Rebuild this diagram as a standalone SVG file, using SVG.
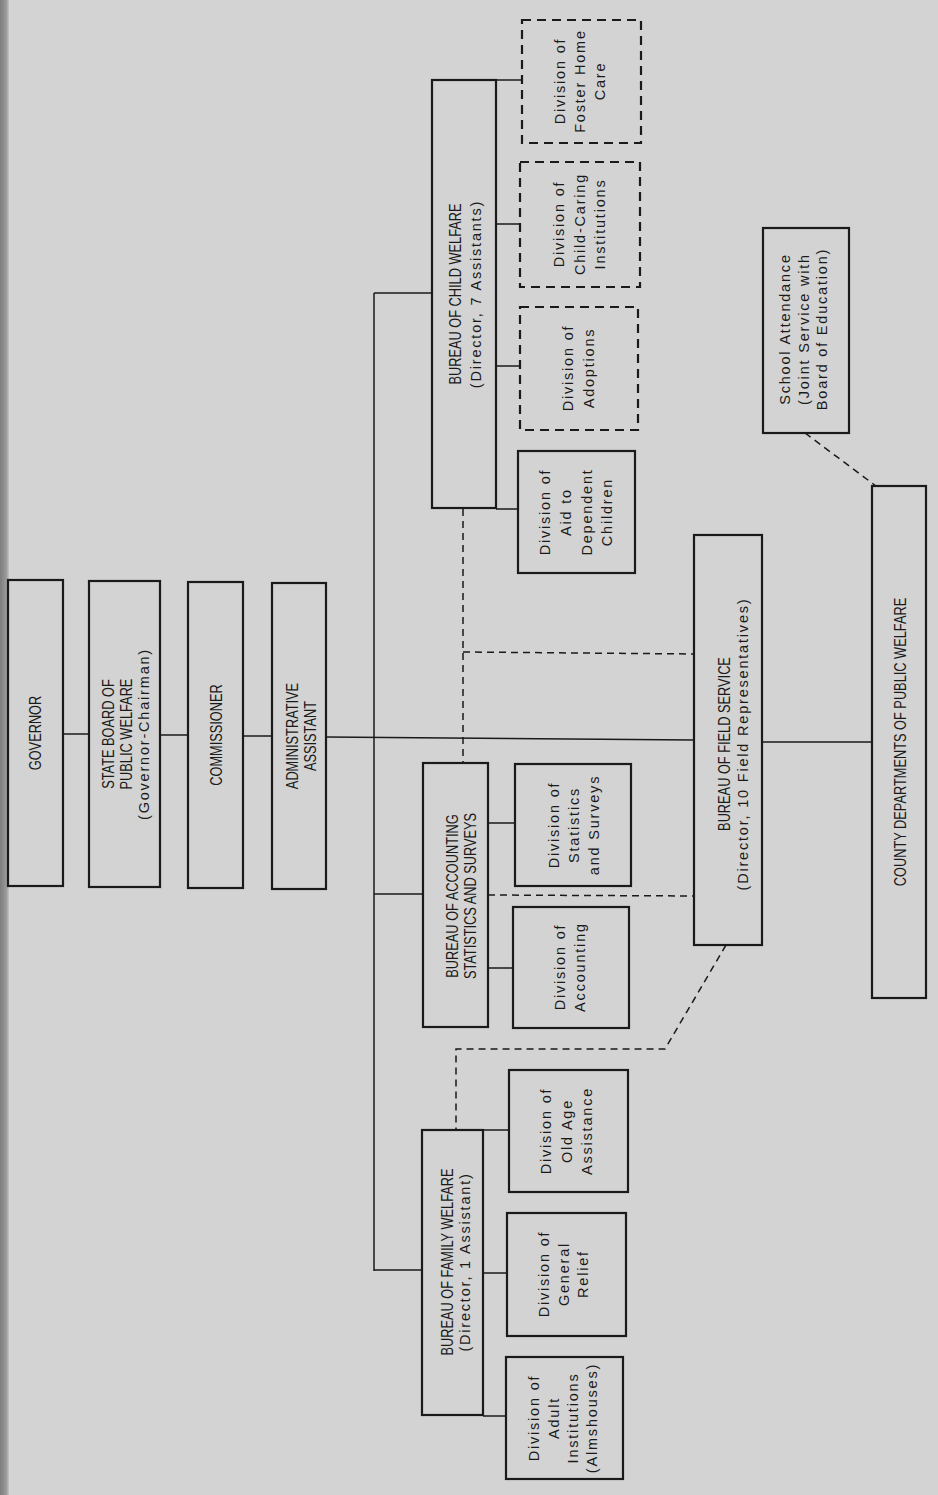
<svg xmlns="http://www.w3.org/2000/svg" width="938" height="1495" viewBox="0 0 938 1495">
<defs>
<linearGradient id="edge" x1="0" y1="0" x2="1" y2="0">
<stop offset="0" stop-color="#7d7d7d"/>
<stop offset="0.7" stop-color="#9a9a9a"/>
<stop offset="1" stop-color="#c4c4c4"/>
</linearGradient>
</defs>
<style>
.box{fill:none;stroke:#1a1a1a;stroke-width:2.2}
.dbox{fill:none;stroke:#1a1a1a;stroke-width:2.2;stroke-dasharray:9 6}
.ln{fill:none;stroke:#1a1a1a;stroke-width:1.5}
.dl{fill:none;stroke:#1a1a1a;stroke-width:1.5;stroke-dasharray:7 5}
.u{font-family:"Liberation Sans",Arial,sans-serif;font-size:16px;fill:#1a1a1a;text-anchor:middle;dominant-baseline:central}
.m{font-family:"Liberation Sans",Arial,sans-serif;font-size:14.5px;letter-spacing:1.8px;fill:#1a1a1a;text-anchor:middle;dominant-baseline:central}
</style>
<rect x="0" y="0" width="938" height="1495" fill="#d3d3d3"/>
<rect x="0" y="0" width="9" height="1495" fill="url(#edge)"/>

<g id="connectors">
<line class="ln" x1="63" y1="734" x2="89" y2="734"/>
<line class="ln" x1="160" y1="735" x2="188" y2="735"/>
<line class="ln" x1="243" y1="736" x2="272" y2="736"/>
<line class="ln" x1="326" y1="737" x2="694" y2="740"/>
<line class="ln" x1="374" y1="293" x2="374" y2="1271"/>
<line class="ln" x1="374" y1="293" x2="432" y2="293"/>
<line class="ln" x1="374" y1="894" x2="423" y2="894"/>
<line class="ln" x1="374" y1="1270" x2="422" y2="1270"/>
<line class="ln" x1="496" y1="80" x2="522" y2="80"/>
<line class="ln" x1="496" y1="224" x2="520" y2="224"/>
<line class="ln" x1="496" y1="366" x2="520" y2="366"/>
<line class="ln" x1="496" y1="509" x2="518" y2="509"/>
<line class="ln" x1="488" y1="823" x2="515" y2="823"/>
<line class="ln" x1="488" y1="968" x2="513" y2="968"/>
<line class="ln" x1="762" y1="742" x2="872" y2="742"/>
<line class="ln" x1="483" y1="1130" x2="509" y2="1130"/>
<line class="ln" x1="483" y1="1273" x2="507" y2="1273"/>
<line class="ln" x1="483" y1="1416" x2="506" y2="1416"/>
<line class="dl" x1="463" y1="509" x2="463" y2="763"/>
<line class="dl" x1="463" y1="652" x2="694" y2="654"/>
<line class="dl" x1="488" y1="895" x2="694" y2="896"/>
<polyline class="dl" points="726,945 665,1049 456,1049 456,1130"/>
<line class="dl" x1="805" y1="433" x2="876" y2="486"/>
</g>

<g id="governor"><rect class="box" x="8" y="580" width="55" height="306"/>
<text class="u" transform="translate(35,733) rotate(-90) scale(0.8,1)">GOVERNOR</text></g>

<g id="state-board"><rect class="box" x="89" y="581" width="71" height="306"/>
<text class="u" transform="translate(108,734) rotate(-90) scale(0.8,1)">STATE BOARD OF</text>
<text class="u" transform="translate(126,734) rotate(-90) scale(0.8,1)">PUBLIC WELFARE</text>
<text class="m" transform="translate(144,734) rotate(-90)">(Governor-Chairman)</text></g>

<g id="commissioner"><rect class="box" x="188" y="582" width="55" height="306"/>
<text class="u" transform="translate(216,735) rotate(-90) scale(0.8,1)">COMMISSIONER</text></g>

<g id="admin-assistant"><rect class="box" x="272" y="583" width="54" height="306"/>
<text class="u" transform="translate(292,736) rotate(-90) scale(0.8,1)">ADMINISTRATIVE</text>
<text class="u" transform="translate(310,736) rotate(-90) scale(0.8,1)">ASSISTANT</text></g>

<g id="child-welfare"><rect class="box" x="432" y="80" width="64" height="428"/>
<text class="u" transform="translate(455,294) rotate(-90) scale(0.8,1)">BUREAU OF CHILD WELFARE</text>
<text class="m" transform="translate(476,294) rotate(-90)">(Director, 7 Assistants)</text></g>

<g id="foster-home"><rect class="dbox" x="522" y="20" width="119" height="123"/>
<text class="m" transform="translate(560,81) rotate(-90)">Division of</text>
<text class="m" transform="translate(580,81) rotate(-90)">Foster Home</text>
<text class="m" transform="translate(600,81) rotate(-90)">Care</text></g>

<g id="child-caring"><rect class="dbox" x="520" y="162" width="120" height="125"/>
<text class="m" transform="translate(559,224) rotate(-90)">Division of</text>
<text class="m" transform="translate(580,224) rotate(-90)">Child-Caring</text>
<text class="m" transform="translate(600,224) rotate(-90)">Institutions</text></g>

<g id="adoptions"><rect class="dbox" x="520" y="307" width="118" height="123"/>
<text class="m" transform="translate(568,368) rotate(-90)">Division of</text>
<text class="m" transform="translate(589,368) rotate(-90)">Adoptions</text></g>

<g id="aid-dependent-children"><rect class="box" x="518" y="451" width="117" height="122"/>
<text class="m" transform="translate(545,512) rotate(-90)">Division of</text>
<text class="m" transform="translate(566,512) rotate(-90)">Aid to</text>
<text class="m" transform="translate(587,512) rotate(-90)">Dependent</text>
<text class="m" transform="translate(607,512) rotate(-90)">Children</text></g>

<g id="accounting-bureau"><rect class="box" x="423" y="763" width="65" height="264"/>
<text class="u" transform="translate(452,896) rotate(-90) scale(0.8,1)">BUREAU OF ACCOUNTING</text>
<text class="u" transform="translate(470,896) rotate(-90) scale(0.8,1)">STATISTICS AND SURVEYS</text></g>

<g id="statistics-division"><rect class="box" x="515" y="764" width="116" height="122"/>
<text class="m" transform="translate(554,825) rotate(-90)">Division of</text>
<text class="m" transform="translate(574,825) rotate(-90)">Statistics</text>
<text class="m" transform="translate(594,825) rotate(-90)">and Surveys</text></g>

<g id="accounting-division"><rect class="box" x="513" y="907" width="116" height="121"/>
<text class="m" transform="translate(560,967) rotate(-90)">Division of</text>
<text class="m" transform="translate(580,967) rotate(-90)">Accounting</text></g>

<g id="field-service"><rect class="box" x="694" y="535" width="68" height="410"/>
<text class="u" transform="translate(724,744) rotate(-90) scale(0.8,1)">BUREAU OF FIELD SERVICE</text>
<text class="m" transform="translate(743,744) rotate(-90)">(Director, 10 Field Representatives)</text></g>

<g id="county-departments"><rect class="box" x="872" y="486" width="54" height="512"/>
<text class="u" transform="translate(900,742) rotate(-90) scale(0.8,1)">COUNTY DEPARTMENTS OF PUBLIC WELFARE</text></g>

<g id="school-attendance"><rect class="box" x="763" y="228" width="86" height="205"/>
<text class="m" transform="translate(785,329) rotate(-90)">School Attendance</text>
<text class="m" transform="translate(804,329) rotate(-90)">(Joint Service with</text>
<text class="m" transform="translate(822,329) rotate(-90)">Board of Education)</text></g>

<g id="family-welfare"><rect class="box" x="422" y="1130" width="61" height="285"/>
<text class="u" transform="translate(447,1262) rotate(-90) scale(0.8,1)">BUREAU OF FAMILY WELFARE</text>
<text class="m" transform="translate(465,1262) rotate(-90)">(Director, 1 Assistant)</text></g>

<g id="old-age"><rect class="box" x="509" y="1070" width="119" height="122"/>
<text class="m" transform="translate(546,1131) rotate(-90)">Division of</text>
<text class="m" transform="translate(567,1131) rotate(-90)">Old Age</text>
<text class="m" transform="translate(587,1131) rotate(-90)">Assistance</text></g>

<g id="general-relief"><rect class="box" x="507" y="1213" width="119" height="123"/>
<text class="m" transform="translate(544,1274) rotate(-90)">Division of</text>
<text class="m" transform="translate(564,1274) rotate(-90)">General</text>
<text class="m" transform="translate(583,1274) rotate(-90)">Relief</text></g>

<g id="adult-institutions"><rect class="box" x="506" y="1357" width="117" height="122"/>
<text class="m" transform="translate(534,1418) rotate(-90)">Division of</text>
<text class="m" transform="translate(554,1418) rotate(-90)">Adult</text>
<text class="m" transform="translate(573,1418) rotate(-90)">Institutions</text>
<text class="m" transform="translate(592,1418) rotate(-90)">(Almshouses)</text></g>
</svg>
